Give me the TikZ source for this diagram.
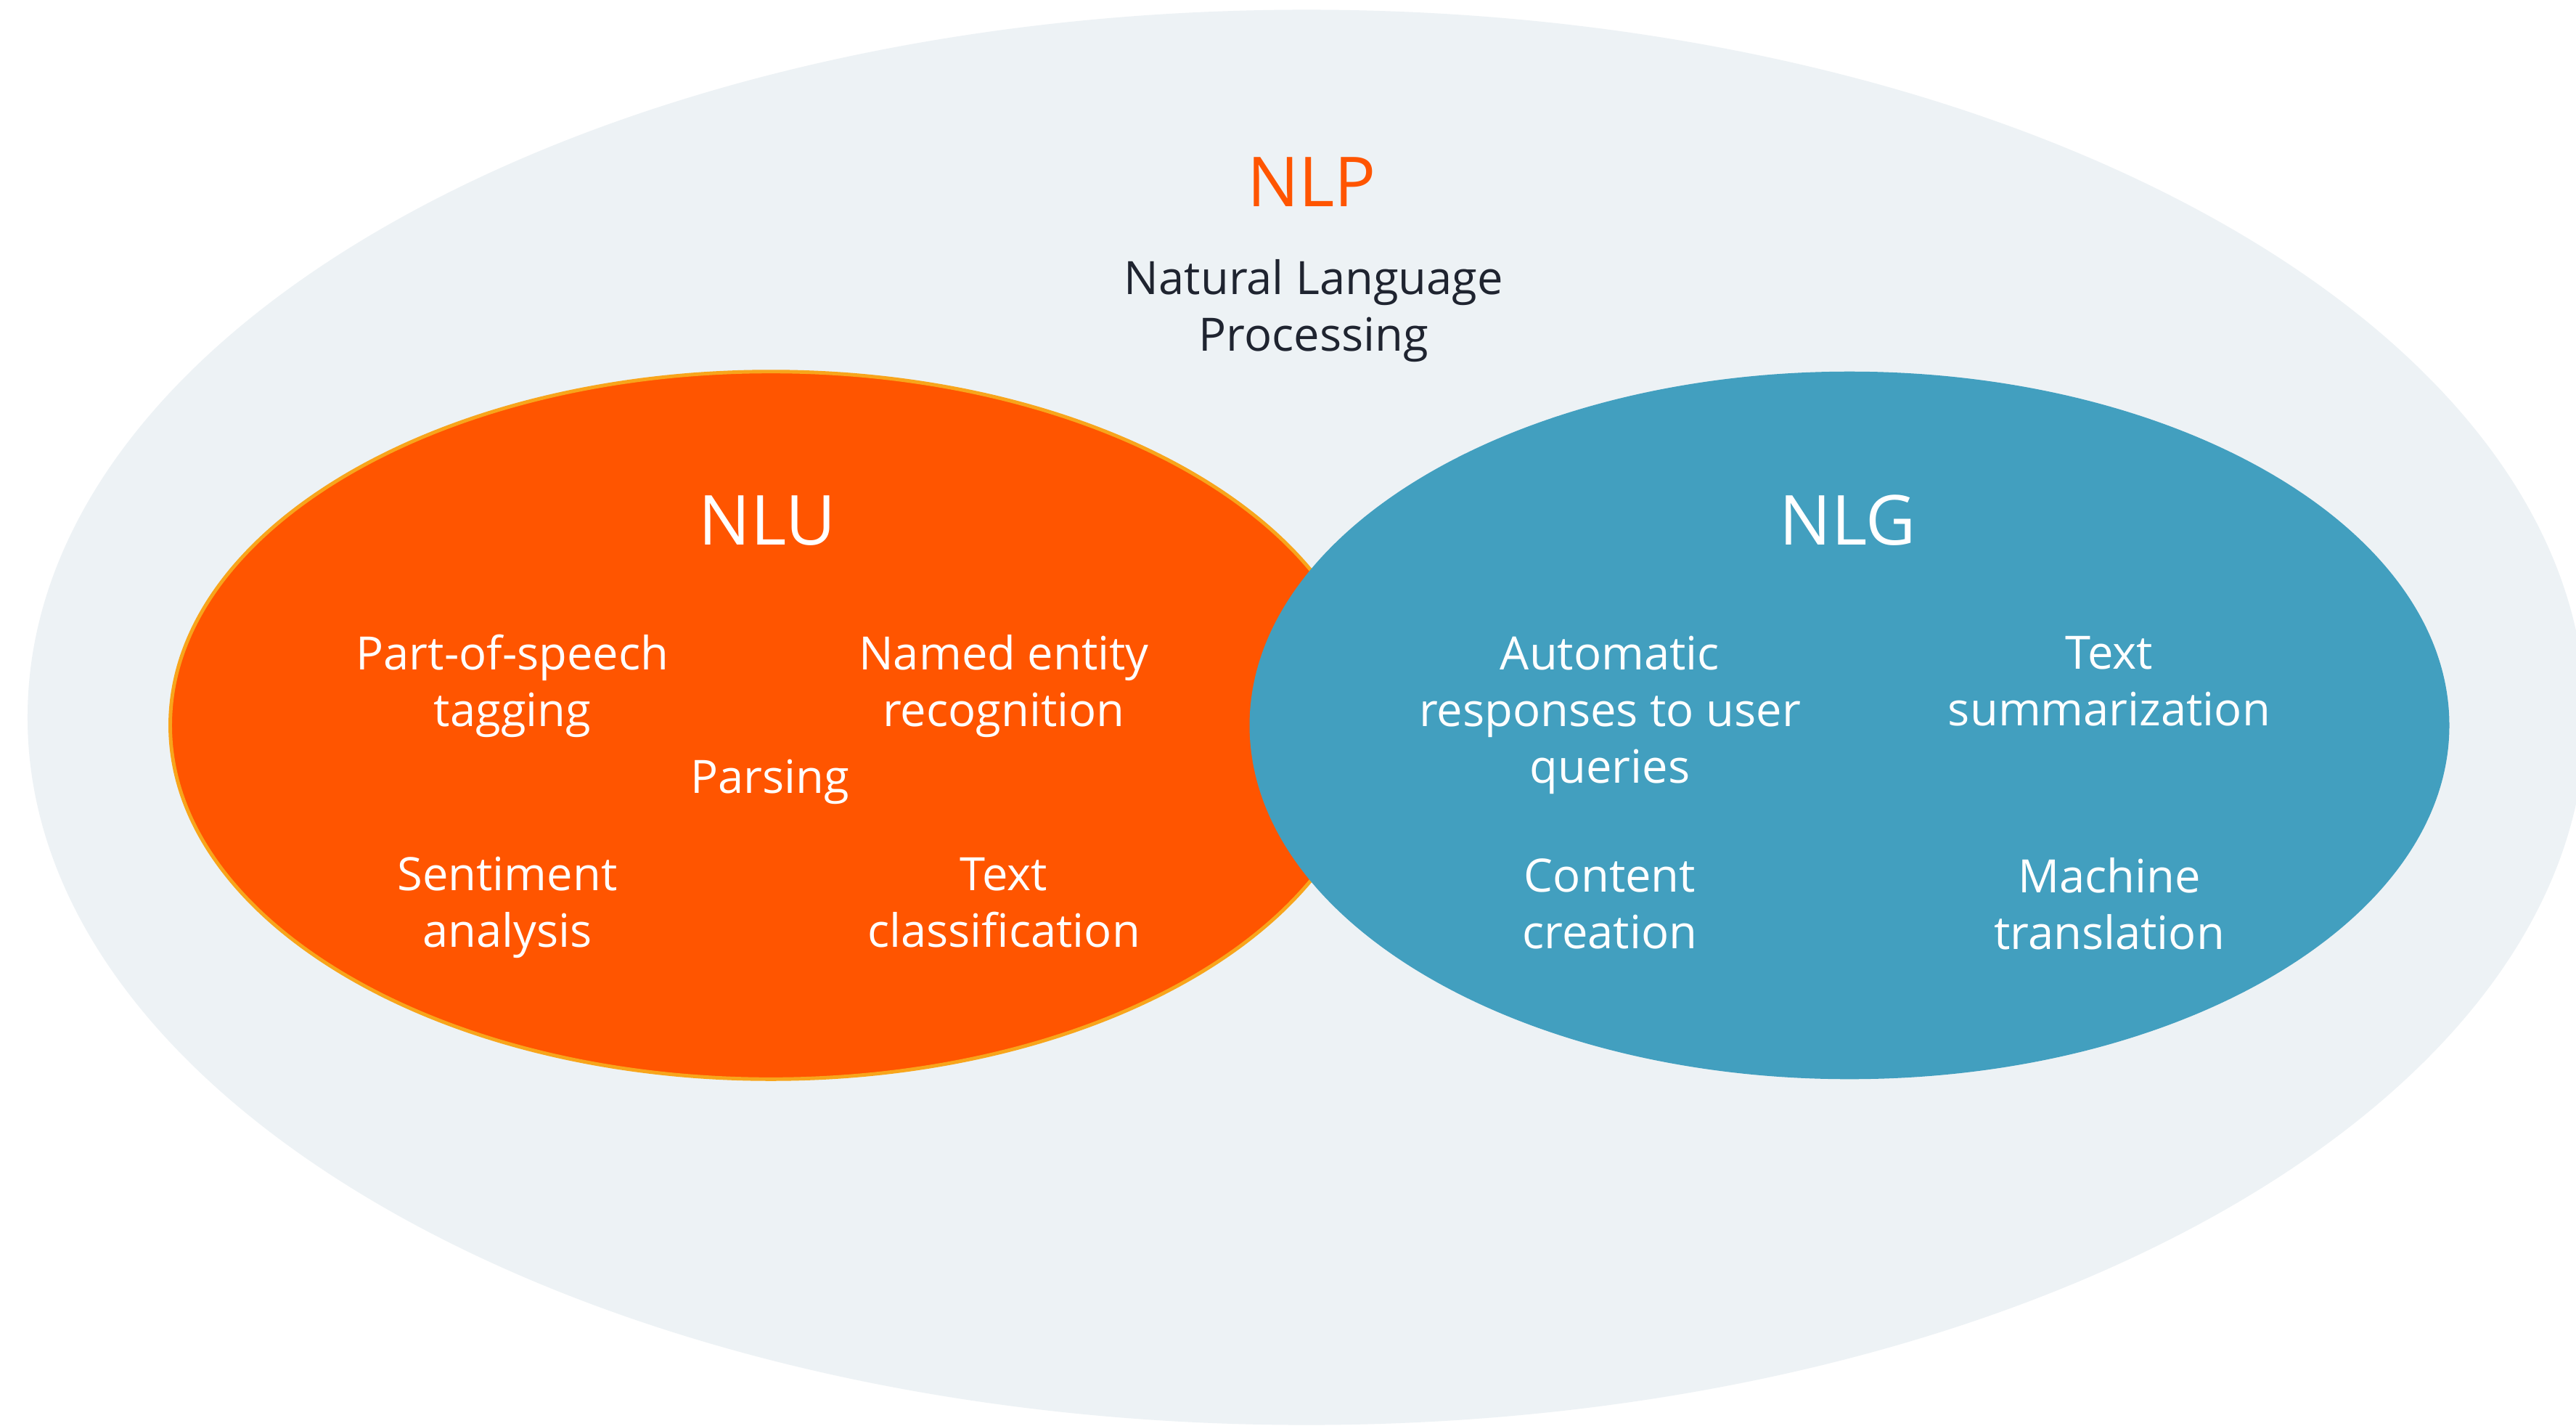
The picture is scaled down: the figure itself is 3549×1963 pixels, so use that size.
\documentclass[tikz,border=0pt]{standalone}
\usepackage{fontspec}
\setmainfont{Open Sans}
\usetikzlibrary{shapes.geometric,positioning}

\definecolor{fondo}{HTML}{EDF2F5}
\definecolor{naranja}{HTML}{FF5500}
\definecolor{borde}{HTML}{F8A51B}
\definecolor{azul}{HTML}{429FBF}
\definecolor{oscuro}{HTML}{1F2430}

\tikzset{
	conjunto/.style={ellipse, inner sep=0pt, minimum height=9.74cm},
	titulo/.style={font=\fontsize{27}{32}\selectfont, text=naranja},
	subtitulo/.style={font=\fontsize{18}{22.2}\selectfont, text=oscuro, align=center},
	nivel1/.style={font=\fontsize{27}{32}\selectfont, text=white},
	nivel2/.style={font=\fontsize{18}{22.2}\selectfont, text=white, align=center}
}

\begin{document}
\begin{tikzpicture}[x=0.01cm,y=-0.01cm]
	\clip (0,0) rectangle (3549,1963);
	\fill[white] (0,0) rectangle (3549,1963);
	
	% conjuntos
	\node[conjunto, fill=fondo, minimum width=35.22cm, minimum height=19.48cm] (nlp) at (1800,988) {};
	\node[conjunto, fill=naranja, draw=borde, line width=1.4pt, minimum width=16.54cm] (nlu) at (1062,999) {};
	\node[conjunto, fill=azul, minimum width=16.52cm] (nlg) at (2548,999) {};
	
	% NLP
	\node[titulo] (nlptit) at (1807,251) {NLP};
	\node[subtitulo] (nlpdesc) at (1810,428) {Natural Language\\Processing};
	
	% NLU
	\node[nivel1] (nlutit) at (1057,717) {NLU};
	\node[nivel2] (pos) at (706,945) {Part-of-speech\\tagging};
	\node[nivel2] (ner) at (1383,945) {Named entity\\recognition};
	\node[nivel2] (parse) at (1061,1077) {Parsing};
	\node[nivel2] (sent) at (699,1250) {Sentiment\\analysis};
	\node[nivel2] (clasif) at (1383,1243) {Text\\classification};
	
	% NLG
	\node[nivel1] (nlgtit) at (2546,717) {NLG};
	\node[nivel2] (resp) at (2218,985) {Automatic\\responses to user\\queries};
	\node[nivel2] (resumen) at (2906,938) {Text\\summarization};
	\node[nivel2] (contenido) at (2218,1245) {Content\\creation};
	\node[nivel2] (trad) at (2906,1245) {Machine\\translation};
\end{tikzpicture}
\end{document}
